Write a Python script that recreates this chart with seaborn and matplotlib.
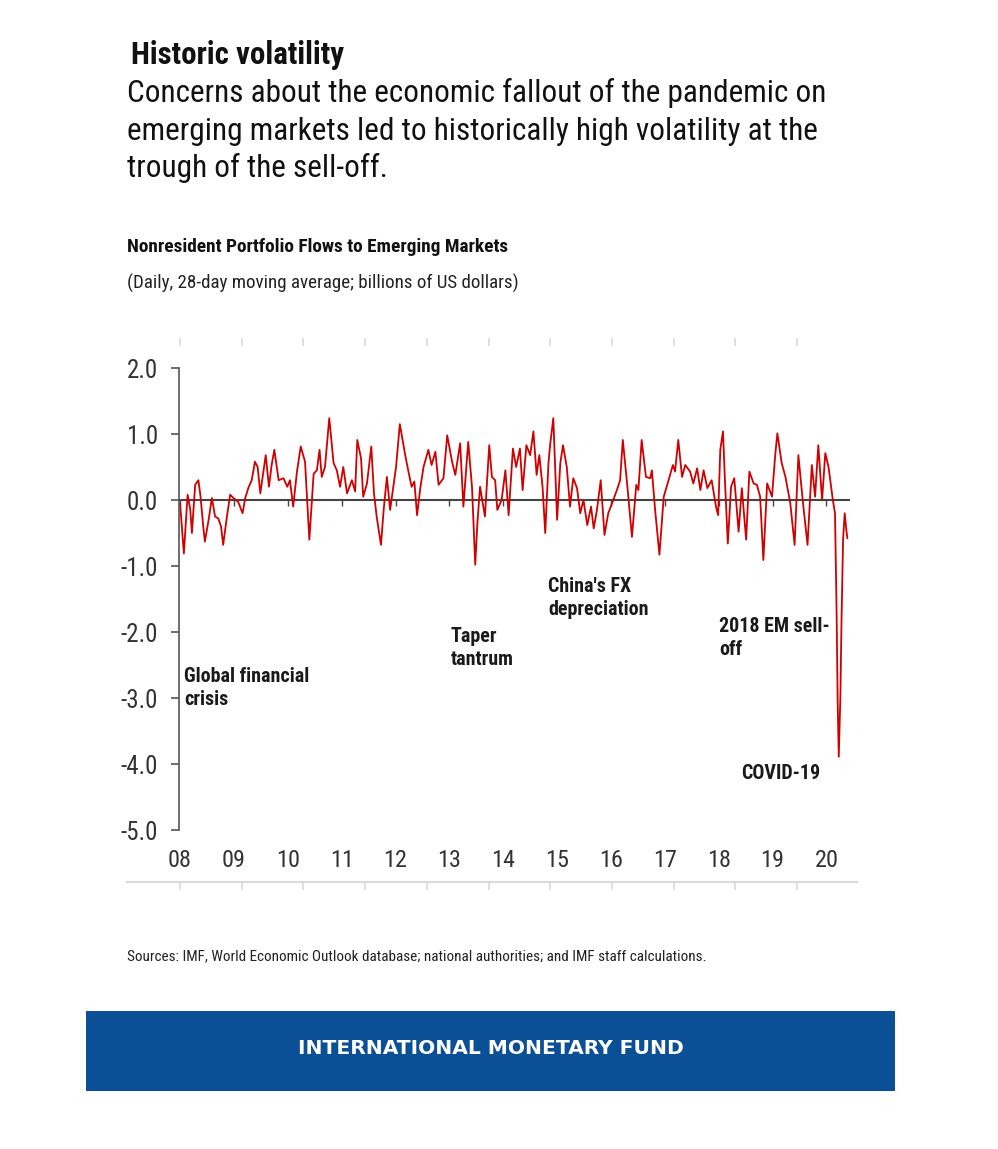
import numpy as np
import pandas as pd
import matplotlib
matplotlib.use("Agg")
import matplotlib.pyplot as plt
from matplotlib import font_manager
from matplotlib.patches import Rectangle
import seaborn as sns

# ---------------- data ----------------
years = [
    2008.00, 2008.07, 2008.14, 2008.19, 2008.22, 2008.28, 2008.34, 2008.38, 2008.43, 2008.46,
    2008.53, 2008.59, 2008.65, 2008.71, 2008.76, 2008.80, 2008.87, 2008.93, 2008.99, 2009.08,
    2009.16, 2009.21, 2009.27, 2009.33, 2009.39, 2009.44, 2009.49, 2009.55, 2009.59, 2009.65,
    2009.70, 2009.75, 2009.83, 2009.92, 2009.99, 2010.04, 2010.10, 2010.17, 2010.24, 2010.32,
    2010.40, 2010.48, 2010.54, 2010.59, 2010.63, 2010.69, 2010.77, 2010.85, 2010.91, 2010.97,
    2011.03, 2011.10, 2011.19, 2011.25, 2011.29, 2011.36, 2011.40, 2011.47, 2011.55, 2011.60,
    2011.65, 2011.73, 2011.78, 2011.84, 2011.90, 2011.95, 2012.01, 2012.08, 2012.18, 2012.24,
    2012.30, 2012.35, 2012.40, 2012.46, 2012.52, 2012.61, 2012.67, 2012.74, 2012.80, 2012.89,
    2012.96, 2013.05, 2013.11, 2013.20, 2013.26, 2013.35, 2013.42, 2013.48, 2013.52, 2013.57,
    2013.66, 2013.74, 2013.79, 2013.85, 2013.89, 2013.97, 2014.04, 2014.10, 2014.18, 2014.24,
    2014.31, 2014.36, 2014.43, 2014.50, 2014.56, 2014.62, 2014.67, 2014.73, 2014.78, 2014.84,
    2014.87, 2014.93, 2015.00, 2015.06, 2015.11, 2015.18, 2015.24, 2015.30, 2015.37, 2015.43,
    2015.49, 2015.56, 2015.63, 2015.68, 2015.74, 2015.81, 2015.88, 2015.95, 2016.02, 2016.11,
    2016.17, 2016.22, 2016.30, 2016.39, 2016.47, 2016.51, 2016.57, 2016.65, 2016.73, 2016.76,
    2016.82, 2016.90, 2016.98, 2017.07, 2017.15, 2017.19, 2017.25, 2017.32, 2017.38, 2017.47,
    2017.53, 2017.60, 2017.66, 2017.72, 2017.79, 2017.87, 2017.95, 2017.99, 2018.03, 2018.08,
    2018.12, 2018.17, 2018.23, 2018.29, 2018.37, 2018.43, 2018.51, 2018.57, 2018.65, 2018.71,
    2018.77, 2018.83, 2018.90, 2018.99, 2019.05, 2019.09, 2019.17, 2019.24, 2019.33, 2019.41,
    2019.48, 2019.56, 2019.65, 2019.73, 2019.79, 2019.85, 2019.92, 2019.98, 2020.04, 2020.12,
    2020.16, 2020.19, 2020.21, 2020.23, 2020.26, 2020.28, 2020.31, 2020.34, 2020.37, 2020.39,
]
flows = [
    -0.05, -0.81, 0.08, -0.15, -0.50, 0.23, 0.30, 0.05, -0.40, -0.63,
    -0.30, 0.03, -0.25, -0.28, -0.40, -0.68, -0.25, 0.08, 0.03, -0.03,
    -0.20, 0.03, 0.19, 0.30, 0.58, 0.50, 0.10, 0.45, 0.68, 0.20,
    0.53, 0.76, 0.30, 0.33, 0.20, 0.30, -0.10, 0.43, 0.81, 0.58,
    -0.60, 0.40, 0.45, 0.76, 0.35, 0.50, 1.24, 0.56, 0.45, 0.20,
    0.50, 0.10, 0.30, 0.13, 0.91, 0.63, 0.05, 0.25, 0.81, 0.10,
    -0.25, -0.68, -0.15, 0.35, -0.15, 0.15, 0.50, 1.15, 0.68, 0.43,
    0.20, 0.28, -0.23, 0.18, 0.50, 0.76, 0.53, 0.73, 0.23, 0.33,
    0.98, 0.58, 0.38, 0.86, -0.10, 0.88, 0.20, -0.98, -0.35, 0.20,
    -0.25, 0.83, 0.35, 0.30, -0.15, 0.00, 0.45, -0.23, 0.78, 0.50,
    0.78, 0.15, 0.83, 0.68, 1.04, 0.38, 0.68, 0.20, -0.50, 0.56,
    0.83, 1.24, -0.30, 0.56, 0.83, 0.50, -0.10, 0.33, 0.18, -0.20,
    0.00, -0.38, -0.10, -0.43, -0.15, 0.30, -0.53, -0.20, -0.05, 0.15,
    0.30, 0.91, 0.25, -0.56, 0.23, 0.15, 0.91, 0.35, 0.33, 0.45,
    -0.15, -0.83, 0.05, 0.30, 0.53, 0.43, 0.91, 0.35, 0.53, 0.43,
    0.25, 0.48, 0.15, 0.45, 0.18, 0.30, -0.10, -0.23, 0.76, 1.04,
    0.23, -0.66, 0.20, 0.33, -0.48, 0.18, -0.60, 0.43, 0.25, 0.23,
    0.05, -0.91, 0.25, 0.05, 0.68, 1.01, 0.56, 0.35, -0.05, -0.68,
    0.68, 0.00, -0.68, 0.53, 0.05, 0.83, 0.00, 0.71, 0.50, 0.00,
    -0.20, -1.71, -3.08, -3.89, -2.98, -1.87, -0.60, -0.20, -0.45, -0.58,
]

year_ticks = list(range(2008, 2021))
year_labels = ["08", "09", "10", "11", "12", "13", "14", "15", "16", "17", "18", "19", "20"]
value_ticks = [2, 1, 0, -1, -2, -3, -4, -5]
value_labels = ["2.0", "1.0", "0.0", "-1.0", "-2.0", "-3.0", "-4.0", "-5.0"]

event_labels = ["Global financial\ncrisis", "Taper\ntantrum", "China's FX\ndepreciation",
                "2018 EM sell-\noff", "COVID-19"]
event_x = [2008.07, 2013.03, 2014.83, 2018.01, 2018.42]
event_y = [-2.85, -2.24, -1.48, -2.09, -4.14]

title = "Historic volatility"
subtitle_lines = ["Concerns about the economic fallout of the pandemic on",
                  "emerging markets led to historically high volatility at the",
                  "trough of the sell-off."]
chart_title = "Nonresident Portfolio Flows to Emerging Markets"
chart_units = "(Daily, 28-day moving average; billions of US dollars)"
source = "Sources: IMF, World Economic Outlook database; national authorities; and IMF staff calculations."
banner = "INTERNATIONAL MONETARY FUND"

df = pd.DataFrame({"year": years, "flow": flows})

# ---------------- style ----------------
sns.set_theme(style="white")
names = {f.name for f in font_manager.fontManager.ttflist}
if "Roboto Condensed" in names:
    narrow = "Roboto Condensed"
    sz = dict(title=22.3, sub=22.5, ctitle=13.9, units=13.7, src=10.9, ytick=18, xtick=17.5, ann=14.4)
elif "Liberation Sans Narrow" in names:
    narrow = "Liberation Sans Narrow"
    sz = dict(title=19, sub=21.5, ctitle=13, units=13, src=10, ytick=18, xtick=17.5, ann=13.5)
else:
    narrow = "Roboto"
    sz = dict(title=20, sub=20, ctitle=12.3, units=12.2, src=9.7, ytick=16, xtick=15.5, ann=12.6)
plt.rcParams["font.family"] = [narrow, "DejaVu Sans"]

W, H = 998, 1149
fig = plt.figure(figsize=(W / 100, H / 100), dpi=100)
fig.patch.set_facecolor("white")


def fx(px):
    return px / W


def fy(py):
    return 1 - py / H


# decorative frame (light grey rule with ticks at bottom, tick dashes at top)
frame = fig.add_axes([fx(127), fy(882), fx(857) - fx(127), fy(346) - fy(882)], zorder=0)
frame.set_xlim(127, 857)
frame.set_ylim(0, 1)
frame.patch.set_alpha(0)
for s in ["left", "right", "top"]:
    frame.spines[s].set_visible(False)
frame.spines["bottom"].set_color("#d9d9d9")
frame.spines["bottom"].set_linewidth(1.5)
ftick = 180 + 61.7 * np.arange(11)
frame.set_xticks(ftick)
frame.set_yticks([])
frame.tick_params(axis="x", bottom=True, top=True, direction="out", length=6, width=1.2,
                  color="#d9d9d9", labelbottom=False, labeltop=False)

# main axes
ax = fig.add_axes([fx(179), fy(830), fx(849) - fx(179), fy(368) - fy(830)], zorder=2)
ax.patch.set_alpha(0)
sns.lineplot(data=df, x="year", y="flow", ax=ax, color="#D00000", linewidth=1.3,
             estimator=None)
ax.set_xlim(2007.98, 2020.42)
ax.set_ylim(-5, 2)
ax.set_xlabel("")
ax.set_ylabel("")

for s in ["right", "top"]:
    ax.spines[s].set_visible(False)
ax.spines["left"].set_color("#555555")
ax.spines["left"].set_linewidth(1.2)
ax.spines["bottom"].set_position(("data", 0))
ax.spines["bottom"].set_color("#444444")
ax.spines["bottom"].set_linewidth(1.5)
ax.spines["bottom"].set_zorder(1)

ax.set_yticks(value_ticks)
ax.set_yticklabels(value_labels)
ax.tick_params(axis="y", left=True, direction="out", length=6, width=1.2, color="#555555",
               labelsize=sz["ytick"], labelcolor="#333333", pad=9)
ax.set_xticks(year_ticks)
ax.tick_params(axis="x", bottom=True, direction="out", length=4, width=1.0, color="#444444",
               labelbottom=False)

sec = ax.secondary_xaxis("bottom")
sec.set_xticks(year_ticks)
sec.set_xticklabels(year_labels)
sec.tick_params(axis="x", length=0, pad=14, labelsize=sz["xtick"], labelcolor="#333333")
sec.spines["bottom"].set_visible(False)

for lab, x, y in zip(event_labels, event_x, event_y):
    ax.text(x, y, lab, ha="left", va="center", fontsize=sz["ann"], fontweight="bold",
            color="#1a1a1a", linespacing=1.25)

# texts
fig.text(fx(131), fy(64), title, fontsize=sz["title"], fontweight="bold", color="#111111",
         ha="left", va="baseline")
for i, line in enumerate(subtitle_lines):
    fig.text(fx(127), fy(102 + 37.5 * i), line, fontsize=sz["sub"], color="#111111",
             ha="left", va="baseline")
fig.text(fx(127), fy(252), chart_title, fontsize=sz["ctitle"], fontweight="bold",
         color="#111111", ha="left", va="baseline")
fig.text(fx(127), fy(289), chart_units, fontsize=sz["units"], color="#222222",
         ha="left", va="baseline")
fig.text(fx(127), fy(960), source, fontsize=sz["src"], color="#222222",
         ha="left", va="baseline")

# banner
fig.patches.append(Rectangle((fx(86), fy(1091)), fx(895) - fx(86), fy(1011) - fy(1091),
                             transform=fig.transFigure, facecolor="#0B4F96",
                             edgecolor="none", zorder=0))
fig.text(fx(491), fy(1049), banner, fontsize=14.6, fontweight="bold", color="white",
         ha="center", va="center", family=["DejaVu Sans"])

fig.savefig("out.png", dpi=100)
